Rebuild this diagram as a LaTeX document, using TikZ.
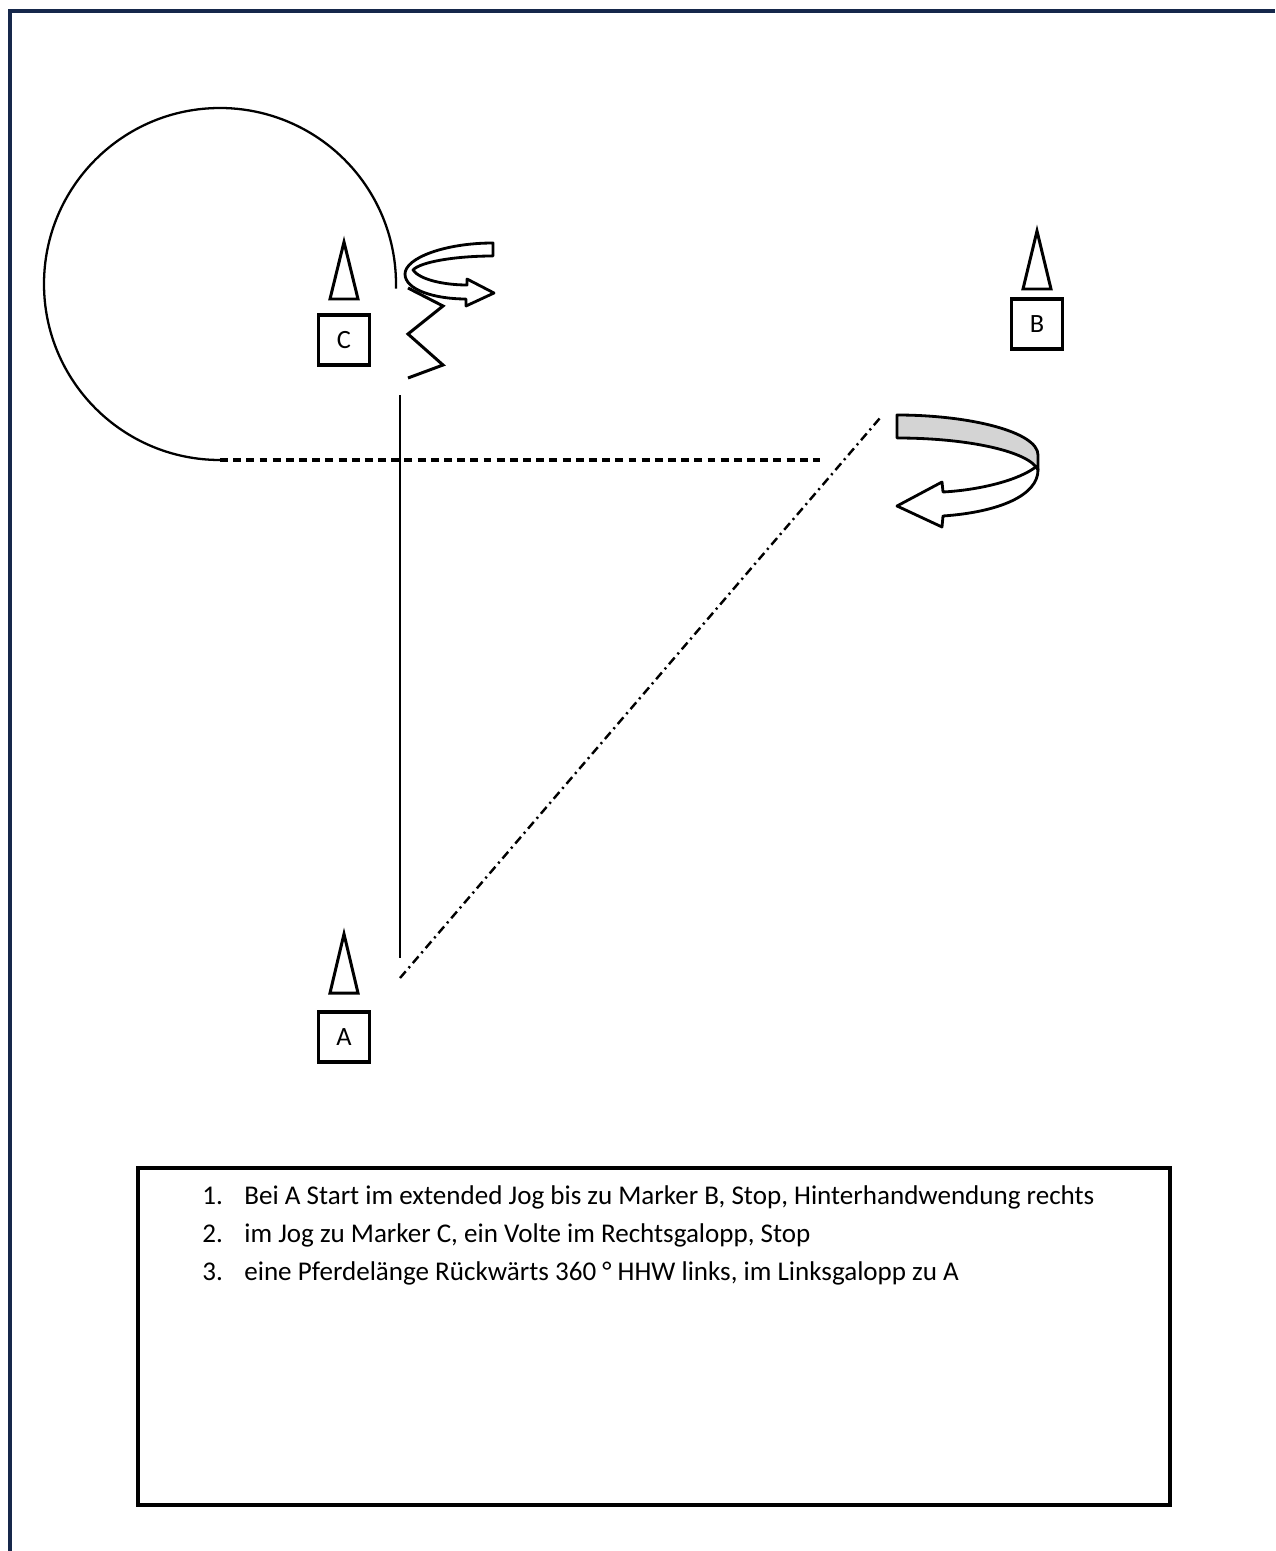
\documentclass[tikz,border=0pt]{standalone}
\usepackage{fontspec}
\setmainfont{Carlito}
\begin{document}
\begin{tikzpicture}[x=0.02cm,y=-0.02cm,
  every node/.style={inner sep=0pt},
  marker/.style={draw,line width=1.9pt,minimum width=1.02cm,minimum height=1.0cm,font=\fontsize{15}{17}\selectfont},
  cone/.style={draw,line width=1.7pt,line join=miter},
  path line/.style={line width=1.3pt},
  listtext/.style={anchor=base west,font=\fontsize{15.4}{18}\selectfont},
  ribbon/.style={draw,line width=1.6pt,line join=round}]
\useasboundingbox (0,0) rectangle (1275,1551);
% frame
\draw[line width=2pt,color={rgb,255:red,22;green,40;blue,75}] (10,1551) -- (10,11) -- (1275,11);
% coordinates
\coordinate (circS) at (220,460);
\coordinate (dashE) at (820,460);
\coordinate (vTop) at (400,395);
\coordinate (vBot) at (400,958);
\coordinate (ddA) at (400,978);
\coordinate (ddB) at (880,418);
% circle (volte)
\draw[path line] (circS) arc[start angle=90,end angle=361.5,radius=176];
% dashed line
\draw[line width=2.3pt,dash pattern=on 4.5pt off 3pt] (circS) -- (dashE);
% vertical line
\draw[path line] (vTop) -- (vBot);
% dash-dot line
\draw[line width=1.4pt,dash pattern=on 5pt off 2.5pt on 1.2pt off 2.5pt] (ddA) -- (ddB);
% markers
\node[marker] (boxC) at (344,340) {C};
\node[marker] (boxB) at (1037,324) {B};
\node[marker] (boxA) at (344,1037) {A};
\draw[cone] (344,242) -- (358,299) -- (330,299) -- cycle;
\draw[cone] (1037,231) -- (1051,289) -- (1023,289) -- cycle;
\draw[cone] (344,934) -- (358,993) -- (330,993) -- cycle;
% zigzag
\draw[line width=1.7pt,line join=miter] (408,288) -- (443,306) -- (408,334) -- (443,365) -- (408,378);
% small spin arrow at C
\draw[ribbon,fill=white] (493,243) -- (493,256) .. controls (455,256) and (420,262) .. (413,270)
  .. controls (420,280) and (445,285) .. (467,285) -- (467,279) -- (494,293) -- (466,306) -- (466,299)
  .. controls (435,299) and (405,290) .. (405,274) .. controls (405,258) and (445,243) .. (493,243) -- cycle;
% big turn arrow at B
\draw[ribbon,fill=white] (1037,466) .. controls (1020,480) and (980,490) .. (943,492) -- (942,482) -- (897,506)
  -- (942,527) -- (943,516) .. controls (1000,512) and (1038,495) .. (1038,470) -- cycle;
\draw[ribbon,fill=black!17] (897,415) .. controls (970,415) and (1038,432) .. (1038,455) -- (1038,470)
  .. controls (1030,452) and (970,438) .. (897,438) -- cycle;
% text box
\node[draw,line width=1.9pt,minimum width=20.64cm,minimum height=6.74cm] (textbox) at (654,1336.5) {};
\node[listtext] (n1) at (202,1204) {1.};
\node[listtext] (t1) at (244,1204) {Bei A Start im extended Jog bis zu Marker B, Stop, Hinterhandwendung rechts};
\node[listtext] (n2) at (202,1242) {2.};
\node[listtext] (t2) at (244,1242) {im Jog zu Marker C, ein Volte im Rechtsgalopp, Stop};
\node[listtext] (n3) at (202,1280) {3.};
\node[listtext] (t3) at (244,1280) {eine Pferdelänge Rückwärts 360 ° HHW links, im Linksgalopp zu A};
\end{tikzpicture}
\end{document}
